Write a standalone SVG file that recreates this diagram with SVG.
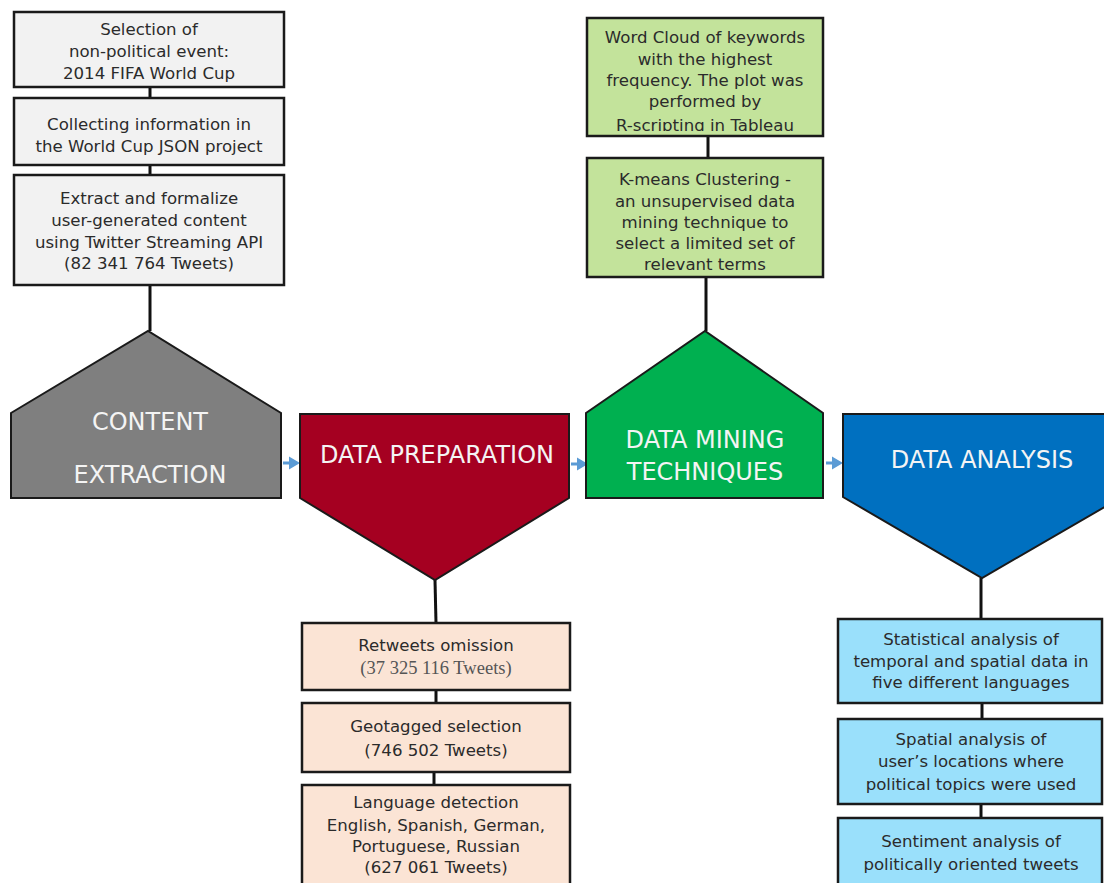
<svg xmlns="http://www.w3.org/2000/svg" width="1104" height="883" viewBox="0 0 1104 883">
<defs>
<style>
.t{font-family:"DejaVu Sans","Liberation Sans",sans-serif;font-size:16.6px;fill:#2b2b2b;text-anchor:middle}
.n{font-family:"Liberation Serif",serif;font-size:18.5px;fill:#555;text-anchor:middle}
.h{font-family:"DejaVu Sans","Liberation Sans",sans-serif;font-size:24px;fill:#f4f4f4;text-anchor:middle}
.bx{stroke:#1a1a1a;stroke-width:2.5}
.pg{stroke:#1a1a1a;stroke-width:2}
.c{stroke:#111;stroke-width:3;fill:none}
.ar{fill:#5b9bd5}
</style>
<clipPath id="clipw"><rect x="587" y="18" width="236" height="113"/></clipPath>
</defs>
<rect width="1104" height="883" fill="#fff"/>
<g id="connectors">
<line class="c" x1="150" y1="87" x2="150" y2="98"/>
<line class="c" x1="150" y1="165" x2="150" y2="175"/>
<line class="c" x1="150" y1="285" x2="150" y2="331"/>
<line class="c" x1="708" y1="136" x2="708" y2="158"/>
<line class="c" x1="706" y1="277" x2="706" y2="331"/>
<line class="c" x1="435" y1="580" x2="436" y2="623"/>
<line class="c" x1="436" y1="690" x2="436" y2="703"/>
<line class="c" x1="434" y1="772" x2="434" y2="785"/>
<line class="c" x1="981" y1="578" x2="981" y2="619"/>
<line class="c" x1="982" y1="703" x2="982" y2="719"/>
<line class="c" x1="981" y1="804" x2="981" y2="818"/>
<g class="ar">
<path d="M283 461.5h6v-5l11 6.5-11 6.5v-5h-6z"/>
<path d="M571 462.5h6v-5l11 6.5-11 6.5v-5h-6z"/>
<path d="M826 461.5h6v-5l11 6.5-11 6.5v-5h-6z"/>
</g>
</g>
<g id="sel">
<rect class="bx" x="14" y="12" width="270" height="75" fill="#f2f2f2"/>
<text class="t" x="149" y="35">Selection of</text>
<text class="t" x="149" y="57">non-political event:</text>
<text class="t" x="149" y="79">2014 FIFA World Cup</text>
</g>
<g id="collect">
<rect class="bx" x="14" y="98" width="270" height="67" fill="#f2f2f2"/>
<text class="t" x="149" y="130">Collecting information in</text>
<text class="t" x="149" y="152">the World Cup JSON project</text>
</g>
<g id="extract">
<rect class="bx" x="14" y="175" width="270" height="110" fill="#f2f2f2"/>
<text class="t" x="149" y="204">Extract and formalize</text>
<text class="t" x="149" y="226">user-generated content</text>
<text class="t" x="149" y="248">using Twitter Streaming API</text>
<text class="t" x="149" y="269">(82 341 764 Tweets)</text>
</g>
<g id="content-extraction">
<path class="pg" d="M11 413L148 331L281 413V498H11Z" fill="#7f7f7f"/>
<text class="h" x="150" y="430">CONTENT</text>
<text class="h" x="150" y="483">EXTRACTION</text>
</g>
<g id="data-preparation">
<path class="pg" d="M300 414H569V498L435 580L300 498Z" fill="#a50021"/>
<text class="h" x="437" y="463">DATA PREPARATION</text>
</g>
<g id="data-mining">
<path class="pg" d="M586 413L705 331L823 413V498H586Z" fill="#00b050"/>
<text class="h" x="705" y="448">DATA MINING</text>
<text class="h" x="705" y="480">TECHNIQUES</text>
</g>
<g id="data-analysis">
<path class="pg" d="M843 414H1122V497L982 578L843 497Z" fill="#0070c0"/>
<text class="h" x="982" y="468">DATA ANALYSIS</text>
</g>
<g id="wordcloud">
<rect class="bx" x="587" y="18" width="236" height="118" fill="#c3e39b"/>
<g clip-path="url(#clipw)">
<text class="t" x="705" y="43">Word Cloud of keywords</text>
<text class="t" x="705" y="65">with the highest</text>
<text class="t" x="705" y="86">frequency. The plot was</text>
<text class="t" x="705" y="107">performed by</text>
<text class="t" x="705" y="131">R-scripting in Tableau</text>
</g>
</g>
<g id="kmeans">
<rect class="bx" x="587" y="158" width="236" height="119" fill="#c3e39b"/>
<text class="t" x="705" y="185">K-means Clustering -</text>
<text class="t" x="705" y="207">an unsupervised data</text>
<text class="t" x="705" y="228">mining technique to</text>
<text class="t" x="705" y="249">select a limited set of</text>
<text class="t" x="705" y="270">relevant terms</text>
</g>
<g id="retweets">
<rect class="bx" x="302" y="623" width="268" height="67" fill="#fbe4d5"/>
<text class="t" x="436" y="651">Retweets omission</text>
<text class="n" x="436" y="674">(37 325 116 Tweets)</text>
</g>
<g id="geotagged">
<rect class="bx" x="302" y="703" width="268" height="69" fill="#fbe4d5"/>
<text class="t" x="436" y="732">Geotagged selection</text>
<text class="t" x="436" y="756">(746 502 Tweets)</text>
</g>
<g id="language">
<rect class="bx" x="302" y="785" width="268" height="110" fill="#fbe4d5"/>
<text class="t" x="436" y="808">Language detection</text>
<text class="t" x="436" y="831">English, Spanish, German,</text>
<text class="t" x="436" y="852">Portuguese, Russian</text>
<text class="t" x="436" y="873">(627 061 Tweets)</text>
</g>
<g id="statistical">
<rect class="bx" x="838" y="619" width="264" height="84" fill="#9ae0fb"/>
<text class="t" x="971" y="645">Statistical analysis of</text>
<text class="t" x="971" y="667">temporal and spatial data in</text>
<text class="t" x="971" y="688">five different languages</text>
</g>
<g id="spatial">
<rect class="bx" x="838" y="719" width="264" height="85" fill="#9ae0fb"/>
<text class="t" x="971" y="745">Spatial analysis of</text>
<text class="t" x="971" y="767">user’s locations where</text>
<text class="t" x="971" y="790">political topics were used</text>
</g>
<g id="sentiment">
<rect class="bx" x="838" y="818" width="264" height="80" fill="#9ae0fb"/>
<text class="t" x="971" y="847">Sentiment analysis of</text>
<text class="t" x="971" y="870">politically oriented tweets</text>
</g>
</svg>
